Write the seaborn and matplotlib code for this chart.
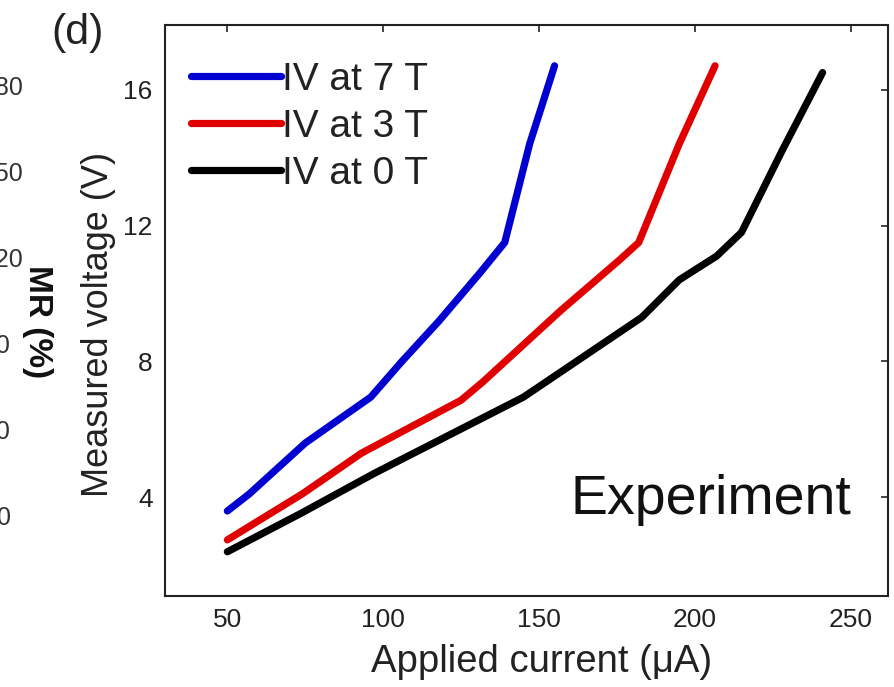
import matplotlib
matplotlib.use("Agg")
import matplotlib.pyplot as plt
import seaborn as sns
import pandas as pd

# I-V curves (applied current in uA, measured voltage in V)
current_7T = [50, 57, 75, 96, 106, 118, 131, 139, 147, 155]
voltage_7T = [3.6, 4.1, 5.6, 6.95, 8.0, 9.2, 10.6, 11.5, 14.4, 16.7]

current_3T = [50, 74, 93, 125, 132, 157, 176, 182, 195, 206.5]
voltage_3T = [2.75, 4.1, 5.3, 6.86, 7.4, 9.5, 11.0, 11.5, 14.4, 16.7]

current_0T = [50, 74, 97, 105.5, 145, 183, 195, 207, 215, 228, 241]
voltage_0T = [2.4, 3.55, 4.7, 5.1, 6.95, 9.3, 10.4, 11.1, 11.8, 14.2, 16.5]

series_labels = ["IV at 7 T", "IV at 3 T", "IV at 0 T"]
series_colors = ["#0000D0", "#E00000", "#000000"]

x_ticks = [50, 100, 150, 200, 250]
y_ticks = [4, 8, 12, 16]

# tick labels of the neighbouring MR panel
mr_ticks = ["180", "150", "120", "90", "60", "30"]

sns.set_theme(style="white")
plt.rcParams["font.family"] = ["Liberation Sans", "DejaVu Sans"]

frames = []
for lab, xs, ys in zip(series_labels,
                       [current_7T, current_3T, current_0T],
                       [voltage_7T, voltage_3T, voltage_0T]):
    frames.append(pd.DataFrame({"current": xs, "voltage": ys, "series": lab}))
df = pd.concat(frames, ignore_index=True)

fig = plt.figure(figsize=(8.94, 6.87), dpi=100)
ax = fig.add_axes([0.1846, 0.1325, 0.8087, 0.8311])

sns.lineplot(data=df, x="current", y="voltage", hue="series",
             hue_order=series_labels, palette=series_colors,
             linewidth=5.2, sort=False, estimator=None, ax=ax)

ax.set_xlim(30, 262)
ax.set_ylim(1.1, 17.9)
ax.set_xticks(x_ticks)
ax.set_yticks(y_ticks)
ax.tick_params(axis="both", which="major", labelsize=19, colors="#222222",
               direction="in", length=5, width=1.2, pad=9)
ax.tick_params(axis="x", bottom=False, top=True, labelbottom=True)
ax.tick_params(axis="y", left=False, right=True, labelleft=True)
for sp in ax.spines.values():
    sp.set_visible(True)
    sp.set_color("#222222")
    sp.set_linewidth(1.5)

ax.set_xlabel("Applied current (\u03bcA)", fontsize=27.5, color="#222222")
ax.set_ylabel("Measured voltage (V)", fontsize=26, color="#222222")
ax.xaxis.set_label_coords(0.521, -0.084)
ax.yaxis.set_label_coords(-0.068, 0.475)

leg = ax.legend(loc="upper left", bbox_to_anchor=(-0.007, 0.99), frameon=False,
                fontsize=28, handlelength=2.3, handletextpad=0.05,
                labelspacing=0.28, borderaxespad=0.4)
for line in leg.get_lines():
    line.set_linewidth(5.2)
for t in leg.get_texts():
    t.set_color("#222222")

ax.text(0.95, 0.168, "Experiment", transform=ax.transAxes, ha="right",
        va="center", fontsize=40, color="#111111")

# panel letter and the edge of the neighbouring panel
fig.text(78 / 894, 1 - 33 / 687, "(d)", fontsize=31, ha="center", va="center",
         color="#222222")
fig.text(37 / 894, 1 - 322 / 687, "MR (%)", fontsize=24, rotation=270,
         ha="center", va="center", fontweight="bold", color="#111111")
for i, lab in enumerate(mr_ticks):
    y_px = 88 + i * 86
    right_px = 23 if len(lab) == 3 else 11
    fig.text(right_px / 894, 1 - y_px / 687, lab, fontsize=18, ha="right",
             va="center", color="#333333")

fig.savefig("out.png", dpi=100)
